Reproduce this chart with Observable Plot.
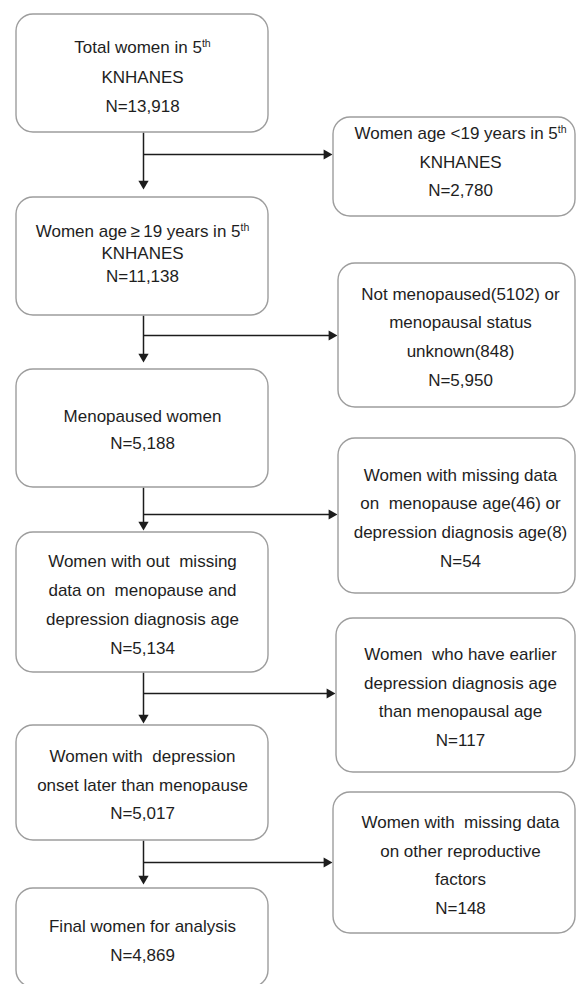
<!DOCTYPE html>
<html>
<head>
<meta charset="utf-8">
<script src="https://cdn.jsdelivr.net/npm/d3@7"></script>
<script src="https://cdn.jsdelivr.net/npm/@observablehq/plot@0.6"></script>
<style>
  html, body { margin: 0; padding: 0; background: #fff; }
  #chart svg { display: block; }
</style>
</head>
<body>
<div id="chart"></div>
<script>
// ---------- data ----------
const stepLabels = [
  "Total women in 5^th\nKNHANES",
  "Women age\u2009\u2265\u200919 years in 5^th\nKNHANES",
  "Menopaused women",
  "Women with out  missing\ndata on  menopause and\ndepression diagnosis age",
  "Women with  depression\nonset later than menopause",
  "Final women for analysis"
];
const stepCounts = [13918, 11138, 5188, 5134, 5017, 4869];

const exclusionLabels = [
  "Women age <19 years in 5^th\nKNHANES",
  "Not menopaused(5102) or\nmenopausal status\nunknown(848)",
  "Women with missing data\non  menopause age(46) or\ndepression diagnosis age(8)",
  "Women  who have earlier\ndepression diagnosis age\nthan menopausal age",
  "Women with  missing data\non other reproductive\nfactors"
];
const exclusionCounts = [2780, 5950, 54, 117, 148];

// ---------- layout (chart units) ----------
const mainTop = [14, 197, 369, 532, 725, 888];
const mainBottom = [132, 315, 487, 672, 840, 987];
const mainLineGap = [29.5, 22.5, 27.5, 29, 28.5, 29];
const mainTextY = [73, 251.5, 426, 600.5, 781, 937];
const downTip = [189, 362, 530, 723, 884];
const exclTop = [117, 263, 438, 618, 792];
const exclBottom = [216, 407, 593, 772, 933];
const exclLeft = [333, 338, 338, 336, 333];
const exclTextY = [158, 333, 514, 693.5, 861.5];
const branchY = [154, 335, 514, 693, 862];

const MAIN_X1 = 16, MAIN_X2 = 268, TRUNK_X = 143, MAIN_TEXT_X = 142;
const EXCL_X2 = 575, EXCL_TEXT_X = 460;
const FS = 17;
const R = 3.8;                 // arrowhead dot radius
const TIP = 1.555 * R;         // triangle tip offset from centre

const fmt = d3.format(",");
const nText = n => "N=" + fmt(n);

const mainBoxes = stepLabels.map((label, i) => ({
  label, n: stepCounts[i], y1: mainTop[i], y2: mainBottom[i], ty: mainTextY[i], gap: mainLineGap[i]
}));
const exclBoxes = exclusionLabels.map((label, i) => ({
  label, n: exclusionCounts[i], x1: exclLeft[i], y1: exclTop[i], y2: exclBottom[i], ty: exclTextY[i]
}));
const trunks = downTip.map((tip, i) => ({ y1: mainBottom[i], y2: tip - TIP, tip }));
const branches = branchY.map((y, i) => ({ y, x2: exclLeft[i] - 1 - TIP, tip: exclLeft[i] - 1 }));

const font = "Liberation Sans, Arial, Helvetica, sans-serif";
const ink = "#1c1c1c";
const boxStroke = "#9d9d9d";

const textMarks = [
  ...mainBoxes.map(b => Plot.text([b], {
    x: () => MAIN_TEXT_X,
    y: "ty",
    text: d => d.label + "\n" + nText(d.n),
    fontSize: FS, fill: "#1e1e1e", lineHeight: b.gap / FS, textAnchor: "middle"
  })),
  Plot.text(exclBoxes, {
    x: () => EXCL_TEXT_X,
    y: "ty",
    text: d => d.label + "\n" + nText(d.n),
    fontSize: FS, fill: "#1e1e1e", lineHeight: 28.6 / FS, textAnchor: "middle"
  })
];

const chart = Plot.plot({
  width: 576,
  height: 984,
  margin: 0,
  style: { fontFamily: font, background: "#fff" },
  x: { domain: [0, 576], range: [0, 576], axis: null },
  y: { domain: [0, 984], range: [0, 984], axis: null },
  marks: [
    // connecting lines
    Plot.link(trunks, { x1: () => TRUNK_X, x2: () => TRUNK_X, y1: "y1", y2: "y2", stroke: ink, strokeWidth: 1.5 }),
    Plot.link(branches, { x1: () => TRUNK_X, x2: "x2", y1: "y", y2: "y", stroke: ink, strokeWidth: 1.5 }),
    // arrowheads
    Plot.dot(trunks, { x: () => TRUNK_X, y: d => d.tip - TIP, symbol: "triangle", rotate: 180, r: R, fill: ink, stroke: "none" }),
    Plot.dot(branches, { x: d => d.tip - TIP, y: "y", symbol: "triangle", rotate: 90, r: R, fill: ink, stroke: "none" }),
    // boxes
    Plot.rect(mainBoxes, { x1: () => MAIN_X1, x2: () => MAIN_X2, y1: "y1", y2: "y2", rx: 17, fill: "white", stroke: boxStroke, strokeWidth: 1.4 }),
    Plot.rect(exclBoxes, { x1: "x1", x2: () => EXCL_X2, y1: "y1", y2: "y2", rx: 17, fill: "white", stroke: boxStroke, strokeWidth: 1.4 }),
    ...textMarks
  ]
});

// superscript "th"
chart.querySelectorAll("text, tspan").forEach(el => {
  for (const node of [...el.childNodes]) {
    if (node.nodeType === 3 && node.nodeValue.includes("^")) {
      const [a, b] = node.nodeValue.split("^");
      node.nodeValue = a;
      const sup = document.createElementNS("http://www.w3.org/2000/svg", "tspan");
      sup.setAttribute("baseline-shift", "super");
      sup.setAttribute("font-size", "62%");
      sup.textContent = b;
      el.appendChild(sup);
    }
  }
});

document.getElementById("chart").appendChild(chart);
</script>
</body>
</html>
